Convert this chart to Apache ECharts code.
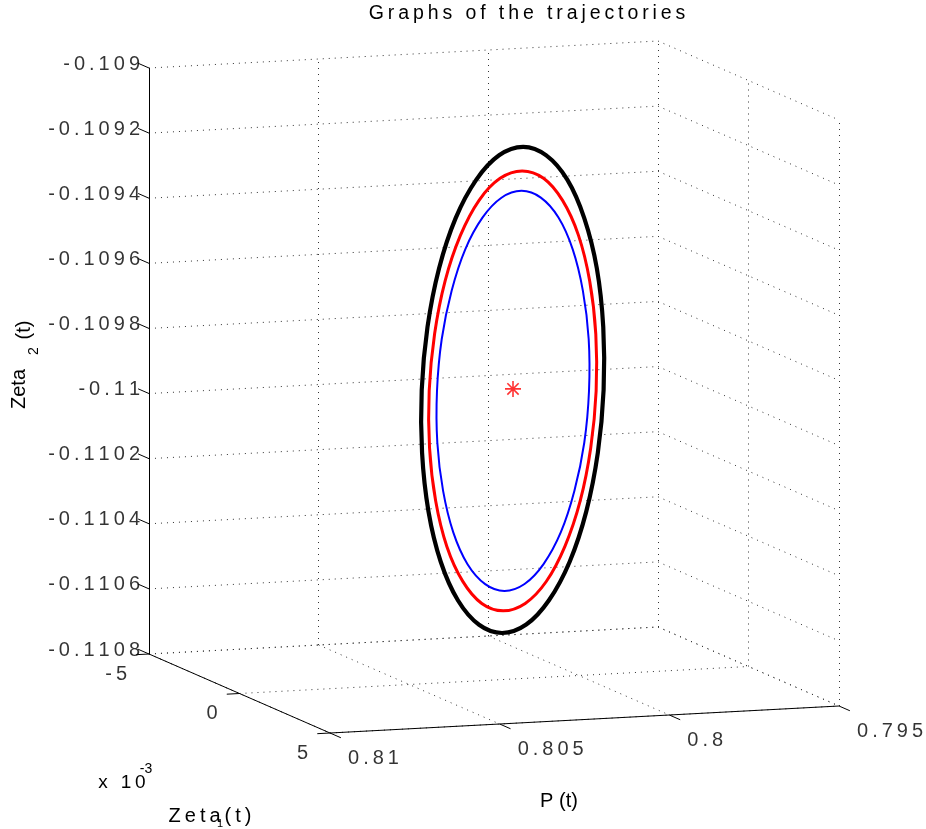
<!DOCTYPE html>
<html>
<head>
<meta charset="utf-8">
<script src="https://cdn.jsdelivr.net/npm/echarts@6/dist/echarts.min.js"></script>
<style>
html,body{margin:0;padding:0;background:#fff;}
#chart{width:926px;height:829px;}
</style>
</head>
<body>
<div id="chart"></div>
<script>
// ---------------- data ----------------
const P_TICKS = [0.795, 0.8, 0.805, 0.81];
const P_TICK_LABELS = ['0.795', '0.8', '0.805', '0.81'];
const ZETA1_TICKS = [-0.005, 0, 0.005];
const ZETA1_TICK_LABELS = ['-5', '0', '5'];
const ZETA2_TICKS = [-0.1108, -0.1106, -0.1104, -0.1102, -0.11, -0.1098, -0.1096, -0.1094, -0.1092, -0.109];
const ZETA2_TICK_LABELS = ['-0.1108', '-0.1106', '-0.1104', '-0.1102', '-0.11', '-0.1098', '-0.1096', '-0.1094', '-0.1092', '-0.109'];

// trajectories (P(t), Zeta2(t)), lying at Zeta1 = TRAJ_ZETA1
const TRAJ_ZETA1 = 0;
const outerP = [0.79927,0.79928,0.79947,0.79984,0.80034,0.80096,0.80164,0.80235,0.80302,0.80363,0.80412,0.80446,0.80463,0.80462,0.80443,0.80407,0.80356,0.80294,0.80226,0.80155,0.80088,0.80027,0.79978,0.79944];
const outerZeta2 = [-0.109927,-0.109734,-0.109552,-0.109396,-0.109275,-0.109197,-0.109167,-0.109189,-0.10926,-0.109375,-0.109527,-0.109705,-0.109897,-0.11009,-0.110272,-0.110428,-0.11055,-0.110628,-0.110657,-0.110635,-0.110564,-0.110449,-0.110297,-0.110119];
const middleP = [0.79949,0.7995,0.79968,0.80001,0.80048,0.80104,0.80167,0.80232,0.80294,0.80349,0.80394,0.80425,0.80441,0.8044,0.80422,0.80389,0.80342,0.80286,0.80223,0.80158,0.80096,0.80041,0.79996,0.79965];
const middleZeta2 = [-0.109929,-0.109754,-0.10959,-0.109448,-0.109338,-0.109267,-0.109241,-0.10926,-0.109324,-0.109429,-0.109566,-0.109727,-0.109901,-0.110076,-0.11024,-0.110382,-0.110492,-0.110563,-0.110589,-0.11057,-0.110506,-0.110401,-0.110264,-0.110103];
const innerP = [0.7997,0.79971,0.79988,0.80018,0.8006,0.80112,0.80169,0.80228,0.80284,0.80335,0.80375,0.80404,0.80418,0.80417,0.804,0.8037,0.80328,0.80276,0.80219,0.8016,0.80104,0.80053,0.80013,0.79984];
const innerZeta2 = [-0.109927,-0.109768,-0.109619,-0.10949,-0.10939,-0.109326,-0.109302,-0.10932,-0.109378,-0.109473,-0.109598,-0.109744,-0.109903,-0.110062,-0.110211,-0.11034,-0.11044,-0.110504,-0.110528,-0.11051,-0.110452,-0.110357,-0.110232,-0.110086];
const equilibrium = [0.80194, 0, -0.109909];

// ---------------- view (3-D projection) ----------------
const W = 926, H = 829;
const VIEW_ORIGIN = [658, 627];
const DIR_P = [-509, 27];
const DIR_Z1 = [181, 79];
const DIR_Z2 = [0, -586];
const pMin = P_TICKS[0], pMax = P_TICKS[P_TICKS.length - 1];
const z1Min = ZETA1_TICKS[0], z1Max = ZETA1_TICKS[ZETA1_TICKS.length - 1];
const z2Min = ZETA2_TICKS[0], z2Max = ZETA2_TICKS[ZETA2_TICKS.length - 1];

function proj(p, z1, z2) {
  const u = (p - pMin) / (pMax - pMin);
  const v = (z1 - z1Min) / (z1Max - z1Min);
  const w = (z2 - z2Min) / (z2Max - z2Min);
  return [
    VIEW_ORIGIN[0] + u * DIR_P[0] + v * DIR_Z1[0] + w * DIR_Z2[0],
    VIEW_ORIGIN[1] + u * DIR_P[1] + v * DIR_Z1[1] + w * DIR_Z2[1]
  ];
}

const spaced = s => s.split('').join('\u2009');

// grid segments on the back planes
const gridSegs = [];
P_TICKS.forEach(p => {
  gridSegs.push([proj(p, z1Min, z2Min), proj(p, z1Min, z2Max)]);
  gridSegs.push([proj(p, z1Min, z2Min), proj(p, z1Max, z2Min)]);
});
ZETA2_TICKS.forEach(z => {
  gridSegs.push([proj(pMax, z1Min, z), proj(pMin, z1Min, z)]);
  gridSegs.push([proj(pMin, z1Min, z), proj(pMin, z1Max, z)]);
});
ZETA1_TICKS.forEach(z1 => {
  gridSegs.push([proj(pMin, z1, z2Min), proj(pMin, z1, z2Max)]);
  gridSegs.push([proj(pMax, z1, z2Min), proj(pMin, z1, z2Min)]);
});

// solid axes and ticks
const axisSegs = [
  [proj(pMax, z1Min, z2Min), proj(pMax, z1Min, z2Max)],
  [proj(pMax, z1Min, z2Min), proj(pMax, z1Max, z2Min)],
  [proj(pMax, z1Max, z2Min), proj(pMin, z1Max, z2Min)]
];
const z1Span = z1Max - z1Min, pSpan = pMax - pMin;
ZETA2_TICKS.forEach(z => axisSegs.push([proj(pMax, z1Min, z), proj(pMax, z1Min - 0.06 * z1Span, z)]));
ZETA1_TICKS.forEach(z1 => axisSegs.push([proj(pMax, z1, z2Min), proj(pMax + 0.025 * pSpan, z1, z2Min)]));
P_TICKS.forEach(p => axisSegs.push([proj(p, z1Max, z2Min), proj(p, z1Max + 0.06 * z1Span, z2Min)]));

function trajSeries(ps, zs, color, width) {
  const pts = ps.map((p, i) => proj(p, TRAJ_ZETA1, zs[i]));
  return {
    type: 'custom', z: 3, silent: true,
    data: [pts[0]],
    renderItem: function (params, api) {
      return {
        type: 'polygon',
        shape: {points: pts.map(pt => api.coord(pt)), smooth: 0.33},
        style: {fill: 'none', stroke: color, lineWidth: width}
      };
    }
  };
}

const FONT = 'Liberation Sans, Arial, Helvetica, sans-serif';
const tickFont = {fontFamily: FONT, fontSize: 20, color: '#000'};

function labelSeries(points, texts, opt) {
  return {
    type: 'scatter', symbolSize: 0, silent: true, z: 5,
    data: points.map((pt, i) => ({value: pt, name: texts[i]})),
    label: Object.assign({
      show: true,
      formatter: pa => spaced(pa.name)
    }, tickFont, opt)
  };
}

const chart = echarts.init(document.getElementById('chart'), null, {renderer: 'canvas'});
const textStyle = (o) => Object.assign({fill: '#000', fontFamily: FONT, fontSize: 20}, o);

chart.setOption({
  animation: false,
  backgroundColor: '#fff',
  grid: {left: 0, right: 0, top: 0, bottom: 0},
  xAxis: {type: 'value', min: 0, max: W, show: false},
  yAxis: {type: 'value', min: 0, max: H, inverse: true, show: false},
  series: [
    {
      type: 'lines', coordinateSystem: 'cartesian2d', silent: true, z: 1,
      data: gridSegs.map(c => ({coords: c})),
      lineStyle: {color: '#333333', width: 1, type: [1, 5], opacity: 1}
    },
    {
      type: 'lines', coordinateSystem: 'cartesian2d', silent: true, z: 2,
      data: axisSegs.map(c => ({coords: c})),
      lineStyle: {color: '#000', width: 1, opacity: 1}
    },
    trajSeries(outerP, outerZeta2, '#000000', 4.2),
    trajSeries(middleP, middleZeta2, '#ff0000', 3),
    trajSeries(innerP, innerZeta2, '#0000ff', 2),
    {
      type: 'scatter', z: 4,
      data: [proj(equilibrium[0], equilibrium[1], equilibrium[2])],
      symbol: 'path://M6 0L6 12M0 6L12 6M1.76 1.76L10.24 10.24M1.76 10.24L10.24 1.76',
      symbolSize: 16,
      itemStyle: {color: 'none', borderColor: '#ff0000', borderWidth: 1.6}
    },
    labelSeries(ZETA2_TICKS.map(z => proj(pMax, z1Min, z)), ZETA2_TICK_LABELS,
      {position: [-9, -4], align: 'right', verticalAlign: 'middle'}),
    labelSeries(ZETA1_TICKS.map(z1 => proj(pMax, z1, z2Min)), ZETA1_TICK_LABELS,
      {position: [-22, 20], align: 'right', verticalAlign: 'middle'}),
    labelSeries(P_TICKS.map(p => proj(p, z1Max, z2Min)), P_TICK_LABELS,
      {position: [18, 25], align: 'left', verticalAlign: 'middle'})
  ],
  graphic: [
    {type: 'text', x: 527, y: 14, style: textStyle({text: spaced('Graphs of the trajectories'), fontSize: 19.5, align: 'center', verticalAlign: 'middle'})},
    {type: 'text', x: 19, y: 389, rotation: Math.PI / 2, style: textStyle({text: 'Zeta', fontSize: 20, align: 'center', verticalAlign: 'middle'})},
    {type: 'text', x: 34, y: 351, rotation: Math.PI / 2, style: textStyle({text: '2', fontSize: 14, align: 'center', verticalAlign: 'middle'})},
    {type: 'text', x: 24, y: 330, rotation: Math.PI / 2, style: textStyle({text: '(t)', fontSize: 20, align: 'center', verticalAlign: 'middle'})},
    {type: 'text', x: 122, y: 783, style: textStyle({text: spaced('x 10'), fontSize: 19, align: 'center', verticalAlign: 'middle'})},
    {type: 'text', x: 146, y: 769, style: textStyle({text: '-3', fontSize: 14, align: 'center', verticalAlign: 'middle'})},
    {type: 'text', x: 210, y: 816, style: textStyle({text: spaced('Zeta(t)'), align: 'center', verticalAlign: 'middle'})},
    {type: 'text', x: 220, y: 824, style: textStyle({text: '1', fontSize: 11, align: 'center', verticalAlign: 'middle'})},
    {type: 'text', x: 559, y: 801, style: textStyle({text: 'P (t)', align: 'center', verticalAlign: 'middle'})}
  ]
});
</script>
</body>
</html>
